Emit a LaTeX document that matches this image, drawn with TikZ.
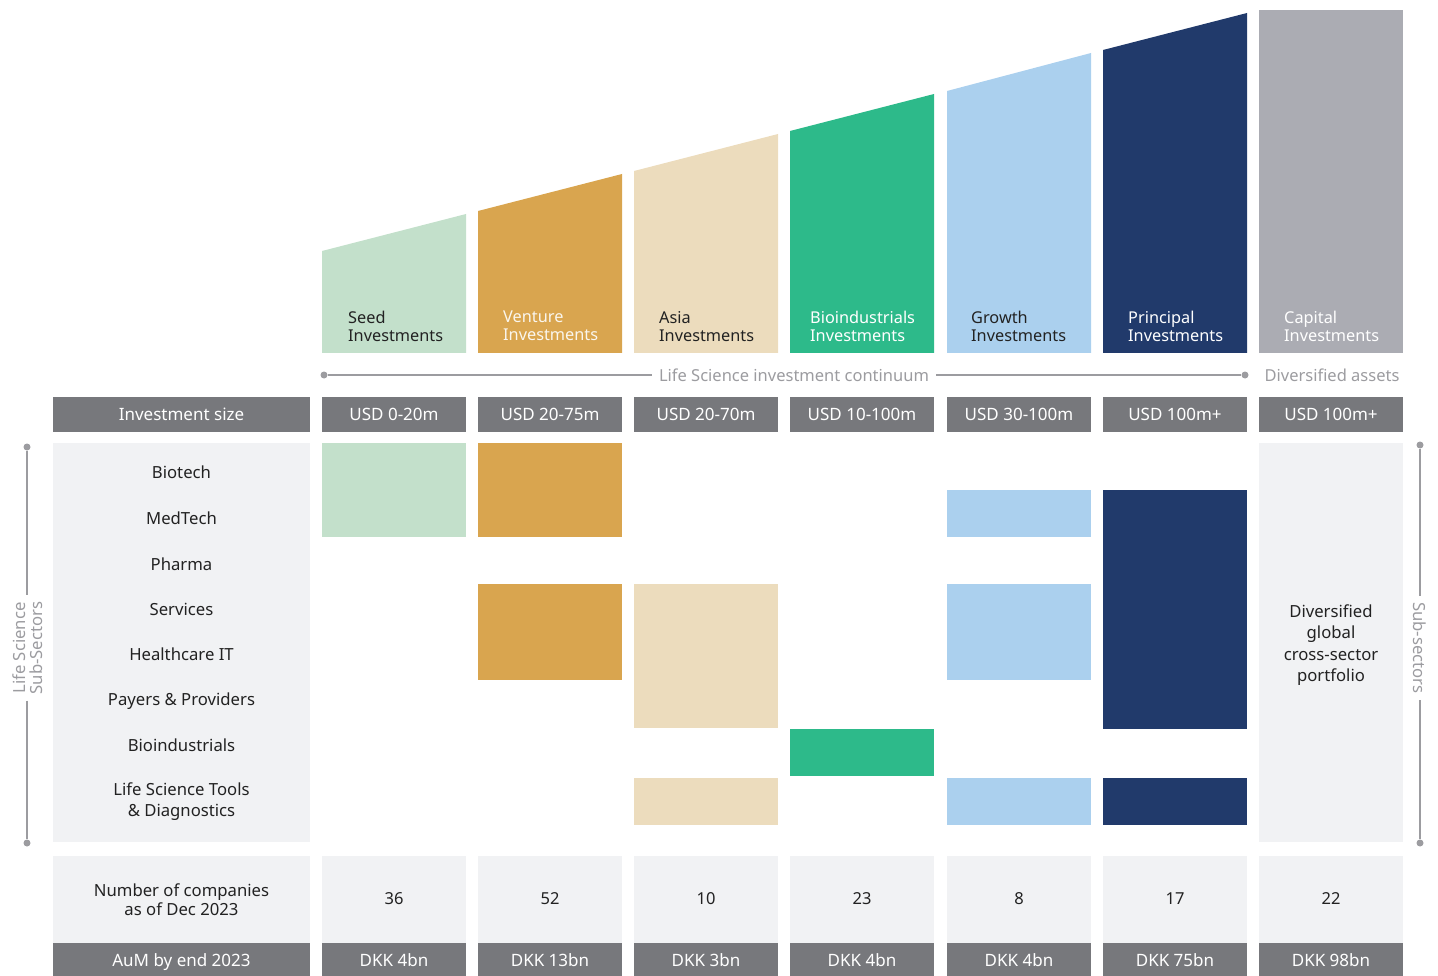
\documentclass[tikz,border=0pt]{standalone}
\usepackage{fontspec}
\setmainfont{Noto Sans}
\definecolor{cseed}{HTML}{C3E0CB}
\definecolor{cvent}{HTML}{D9A54F}
\definecolor{casia}{HTML}{ECDCBD}
\definecolor{cbio}{HTML}{2DBA8A}
\definecolor{cgrow}{HTML}{ABD0EE}
\definecolor{cprin}{HTML}{213A6B}
\definecolor{ccap}{HTML}{ABACB3}
\definecolor{dgray}{HTML}{77787C}
\definecolor{lpanel}{HTML}{F1F2F4}
\definecolor{lgray}{HTML}{9C9CA0}
\definecolor{ink}{HTML}{222222}
\definecolor{wink}{HTML}{FAF6EE}
\tikzset{
  toplabel/.style={anchor=north west, align=left, inner sep=0pt, font=\fontsize{16.3}{18}\selectfont},
  hdrbox/.style={fill=dgray, text=white, minimum width=144pt, minimum height=35pt, inner sep=0pt, text height=16pt, text depth=3.5pt, font=\fontsize{17}{18}\selectfont},
  numbox/.style={fill=lpanel, text=ink, minimum width=144pt, minimum height=87pt, inner sep=0pt, font=\fontsize{16.5}{18}\selectfont},
  rowlbl/.style={text=ink, inner sep=0pt, align=center, font=\fontsize{16.7}{20}\selectfont},
  contline/.style={draw=lgray, line width=1.3pt},
  dot/.style={circle, fill=lgray, inner sep=0pt, minimum size=7pt},
}
\begin{document}
\begin{tikzpicture}[x=1pt,y=-1pt]
\useasboundingbox (0,0) rectangle (1438,976);
% top columns
\fill[cseed] (322,353) -- (322,251) -- (466,214) -- (466,353) -- cycle;
\fill[cvent] (478,353) -- (478,211) -- (622,174) -- (622,353) -- cycle;
\fill[casia] (634,353) -- (634,171) -- (778,134) -- (778,353) -- cycle;
\fill[cbio] (790,353) -- (790,131) -- (934,94) -- (934,353) -- cycle;
\fill[cgrow] (947,353) -- (947,91) -- (1091,53) -- (1091,353) -- cycle;
\fill[cprin] (1103,353) -- (1103,50) -- (1247,13) -- (1247,353) -- cycle;
\fill[ccap] (1259,10) rectangle (1403,353);
\node[toplabel, text=ink] (tseed) at (348,311) {Seed\\Investments};
\node[toplabel, text=wink] (tvent) at (503,311) {Venture\\Investments};
\node[toplabel, text=ink] (tasia) at (659,311) {Asia\\Investments};
\node[toplabel, text=white] (tbio) at (810,311) {Bioindustrials\\Investments};
\node[toplabel, text=ink] (tgrow) at (971,311) {Growth\\Investments};
\node[toplabel, text=white] (tprin) at (1128,311) {Principal\\Investments};
\node[toplabel, text=white] (tcap) at (1284,311) {Capital\\Investments};
% continuum
\node[dot] (d1) at (324,375) {};
\node[dot] (d2) at (1245,375) {};
\node[text=lgray, fill=white, inner xsep=7pt, inner ysep=0pt, font=\fontsize{16.5}{18}\selectfont] (ctext) at (794,375) {Life Science investment continuum};
\draw[contline] (d1) -- (ctext.west);
\draw[contline] (ctext.east) -- (d2);
\node[text=lgray, font=\fontsize{16.5}{18}\selectfont] (divas) at (1332,375) {Diversified assets};
% investment size row
\node[hdrbox, minimum width=257pt] (hsize) at (181.5,414.5) {Investment size};
\node[hdrbox] (s1) at (394,414.5) {USD 0-20m};
\node[hdrbox] (s2) at (550,414.5) {USD 20-75m};
\node[hdrbox] (s3) at (706,414.5) {USD 20-70m};
\node[hdrbox] (s4) at (862,414.5) {USD 10-100m};
\node[hdrbox] (s5) at (1019,414.5) {USD 30-100m};
\node[hdrbox] (s6) at (1175,414.5) {USD 100m+};
\node[hdrbox] (s7) at (1331,414.5) {USD 100m+};
% sub-sector panels
\fill[lpanel] (53,443) rectangle (310,842);
\fill[lpanel] (1259,443) rectangle (1403,842);
\node[rowlbl] (r1) at (181.5,472) {Biotech};
\node[rowlbl] (r2) at (181.5,518) {MedTech};
\node[rowlbl] (r3) at (181.5,564) {Pharma};
\node[rowlbl] (r4) at (181.5,609) {Services};
\node[rowlbl] (r5) at (181.5,654) {Healthcare IT};
\node[rowlbl] (r6) at (181.5,701) {Payers \& Providers};
\node[rowlbl] (r7) at (181.5,745) {Bioindustrials};
\node[rowlbl, font=\fontsize{16.7}{21}\selectfont] (r8) at (181.5,801.5) {Life Science Tools\\\& Diagnostics};
\node[rowlbl, font=\fontsize{16.7}{21.5}\selectfont] (divp) at (1331,645) {Diversified\\global\\cross-sector\\portfolio};
% coverage blocks
\fill[cseed] (322,443) rectangle (466,537);
\fill[cvent] (478,443) rectangle (622,537);
\fill[cvent] (478,584) rectangle (622,680);
\fill[casia] (634,584) rectangle (778,728);
\fill[casia] (634,778) rectangle (778,825);
\fill[cbio] (790,729) rectangle (934,776);
\fill[cgrow] (947,490) rectangle (1091,537);
\fill[cgrow] (947,584) rectangle (1091,680);
\fill[cgrow] (947,778) rectangle (1091,825);
\fill[cprin] (1103,490) rectangle (1247,729);
\fill[cprin] (1103,778) rectangle (1247,825);
% left bracket
\node[dot] (lb1) at (27,447) {};
\node[dot] (lb2) at (27,843) {};
\node[rotate=90, text=lgray, align=center, inner xsep=6pt, inner ysep=0pt, font=\fontsize{16.7}{17}\selectfont] (ltext) at (28,648) {Life Science\\Sub-Sectors};
\draw[contline] (lb1) -- (lb1 |- ltext.east);
\draw[contline] (lb1 |- ltext.west) -- (lb2);
% right bracket
\node[dot] (rb1) at (1420,445) {};
\node[dot] (rb2) at (1420,843) {};
\node[rotate=-90, text=lgray, inner xsep=6pt, inner ysep=0pt, font=\fontsize{16.7}{17}\selectfont] (rtext) at (1420,648) {Sub-sectors};
\draw[contline] (rb1) -- (rb1 |- rtext.west);
\draw[contline] (rb1 |- rtext.east) -- (rb2);
% number row
\node[numbox, minimum width=257pt, align=center, font=\fontsize{16.7}{19}\selectfont] (hnum) at (181.5,899.5) {Number of companies\\as of Dec 2023};
\node[numbox] (n1) at (394,899) {36};
\node[numbox] (n2) at (550,899) {52};
\node[numbox] (n3) at (706,899) {10};
\node[numbox] (n4) at (862,899) {23};
\node[numbox] (n5) at (1019,899) {8};
\node[numbox] (n6) at (1175,899) {17};
\node[numbox] (n7) at (1331,899) {22};
% AuM row
\node[hdrbox, minimum width=257pt, minimum height=34pt] (haum) at (181.5,960) {AuM by end 2023};
\node[hdrbox, minimum height=34pt] (a1) at (394,960) {DKK 4bn};
\node[hdrbox, minimum height=34pt] (a2) at (550,960) {DKK 13bn};
\node[hdrbox, minimum height=34pt] (a3) at (706,960) {DKK 3bn};
\node[hdrbox, minimum height=34pt] (a4) at (862,960) {DKK 4bn};
\node[hdrbox, minimum height=34pt] (a5) at (1019,960) {DKK 4bn};
\node[hdrbox, minimum height=34pt] (a6) at (1175,960) {DKK 75bn};
\node[hdrbox, minimum height=34pt] (a7) at (1331,960) {DKK 98bn};
\end{tikzpicture}
\end{document}
